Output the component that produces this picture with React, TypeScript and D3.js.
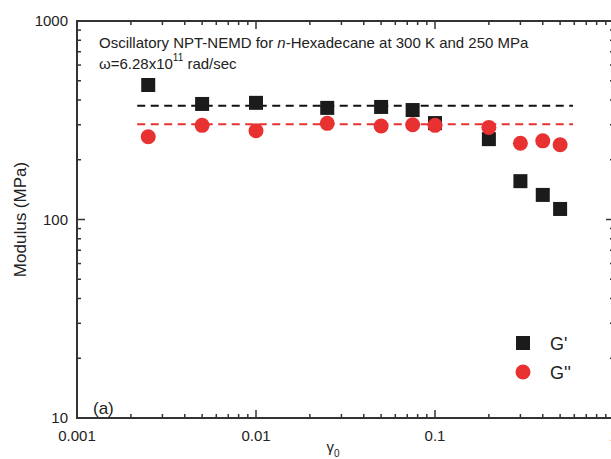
import React from "react";
import * as d3 from "d3";

const strains = [0.0025, 0.005, 0.01, 0.025, 0.05, 0.075, 0.1, 0.2, 0.3, 0.4, 0.5];
const gPrime = [476, 382, 387, 365, 369, 356, 306, 254, 156, 133, 113];
const gDouble = [261, 298, 280, 305, 296, 300, 298, 291, 242, 249, 238];
const meanLines = [
  { name: "G'", value: 374, from: 0.00217, to: 0.59, color: "#111111" },
  { name: "G''", value: 302, from: 0.00217, to: 0.59, color: "#e83232" },
];
const xTickLabels = ["0.001", "0.01", "0.1", "1"];
const yTickLabels = ["10", "100", "1000"];

const W = 611;
const H = 459;
const FONT = "'Liberation Sans', Arial, sans-serif";
const AXIS = "#333333";
const BLACK = "#1b1b1b";
const RED = "#e83232";

export default function App() {
  const x = d3.scaleLog().domain([0.001, 1]).range([77, 614]);
  const y = d3.scaleLog().domain([10, 1000]).range([418, 21]);
  const [x0, x1] = x.range();
  const [y0, y1] = y.range();

  const isMajor = (v: number) => Math.abs(Math.log10(v) - Math.round(Math.log10(v))) < 1e-6;
  const xt = x.ticks();
  const yt = y.ticks();
  const maj = 8;
  const min = 4;

  return (
    <svg
      width={W}
      height={H}
      style={{ position: "absolute", left: 0, top: 0, background: "#fff" }}
      fontFamily={FONT}
    >
      {/* ticks */}
      <g stroke={AXIS} strokeWidth={1.5}>
        {xt.map((t, i) => {
          const L = isMajor(t) ? maj : min;
          return (
            <g key={"x" + i}>
              <line x1={x(t)} x2={x(t)} y1={y0} y2={y0 - L} />
              <line x1={x(t)} x2={x(t)} y1={y1} y2={y1 + L} />
            </g>
          );
        })}
        {yt.map((t, i) => {
          const L = isMajor(t) ? maj : min;
          return (
            <g key={"y" + i}>
              <line x1={x0} x2={x0 + L} y1={y(t)} y2={y(t)} />
              <line x1={x1} x2={x1 - L} y1={y(t)} y2={y(t)} />
            </g>
          );
        })}
      </g>
      {/* frame */}
      <rect x={x0} y={y1} width={x1 - x0} height={y0 - y1} fill="none" stroke={AXIS} strokeWidth={2} />

      {/* tick labels */}
      <g fontSize={15} fill="#222">
        {xTickLabels.map((s) => (
          <text key={s} x={x(+s)} y={y0 + 23} textAnchor="middle">
            {s}
          </text>
        ))}
        {yTickLabels.map((s) => (
          <text key={s} x={x0 - 9} y={y(+s) + 5} textAnchor="end">
            {s}
          </text>
        ))}
      </g>

      {/* axis titles */}
      <text
        transform={`translate(26,${(y0 + y1) / 2}) rotate(-90)`}
        textAnchor="middle"
        fontSize={17}
        fill="#222"
      >
        Modulus (MPa)
      </text>
      <text x={333} y={452} textAnchor="middle" fontSize={15} fill="#222">
        γ<tspan fontSize={10} dy={5}>0</tspan>
      </text>

      {/* dashed mean lines */}
      {meanLines.map((m) => (
        <line
          key={m.name}
          x1={x(m.from)}
          x2={x(m.to)}
          y1={y(m.value)}
          y2={y(m.value)}
          stroke={m.color}
          strokeWidth={2}
          strokeDasharray="8,5.5"
        />
      ))}

      {/* G' squares */}
      {strains.map((s, i) => (
        <rect key={"gp" + i} x={x(s) - 7} y={y(gPrime[i]) - 7} width={14} height={14} fill={BLACK} />
      ))}
      {/* G'' circles */}
      {strains.map((s, i) => (
        <circle key={"gd" + i} cx={x(s)} cy={y(gDouble[i])} r={7.5} fill={RED} />
      ))}

      {/* annotation */}
      <text x={99} y={48} fontSize={15} fill="#222">
        Oscillatory NPT-NEMD for <tspan fontStyle="italic">n</tspan>-Hexadecane at 300 K and 250 MPa
      </text>
      <text x={99} y={69} fontSize={15} fill="#222">
        ω=6.28x10<tspan fontSize={10} dy={-8}>11</tspan>
        <tspan dy={8}> rad/sec</tspan>
      </text>
      <text x={93} y={414} fontSize={17} fill="#222">
        (a)
      </text>

      {/* legend */}
      <rect x={516} y={336} width={14} height={14} fill={BLACK} />
      <text x={550} y={350} fontSize={18} fill="#222">
        G'
      </text>
      <circle cx={523} cy={372} r={7.5} fill={RED} />
      <text x={550} y={379} fontSize={18} fill="#222">
        G''
      </text>
    </svg>
  );
}
